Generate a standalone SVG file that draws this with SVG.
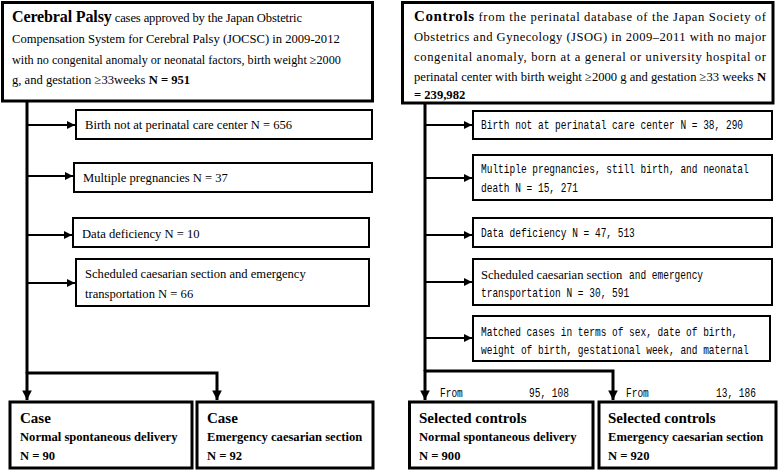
<svg xmlns="http://www.w3.org/2000/svg" width="778" height="470" viewBox="0 0 778 470">
<defs>
<style>
.t{font-family:"Liberation Serif","Times New Roman",serif;font-size:12.6px;fill:#000}
.b{font-weight:bold}
.h{font-family:"Liberation Serif","Times New Roman",serif;font-size:15px;font-weight:bold;fill:#000}
.m{font-family:"Liberation Mono","Courier New",monospace;font-size:12.5px;fill:#000}
.big{fill:#fff;stroke:#000;stroke-width:3}
.sub{fill:#fff;stroke:#000;stroke-width:2}
.ln{fill:none;stroke:#000;stroke-width:3}
.ar{fill:none;stroke:#000;stroke-width:2}
</style>
<marker id="ah" viewBox="0 0 10 10" refX="10" refY="5" markerWidth="4" markerHeight="4" orient="auto" markerUnits="strokeWidth">
<path d="M0,0 L10,5 L0,10 z" fill="#000"/>
</marker>
<marker id="ahb" viewBox="0 0 10 10" refX="10" refY="5" markerWidth="3.2" markerHeight="3.2" orient="auto" markerUnits="strokeWidth">
<path d="M0,0 L10,5 L0,10 z" fill="#000"/>
</marker>
</defs>

<g id="connectors">
<path class="ln" d="M27,101 V373"/>
<path class="ar" d="M27,125 H75" marker-end="url(#ah)"/>
<path class="ar" d="M27,176 H73" marker-end="url(#ah)"/>
<path class="ar" d="M27,235 H72" marker-end="url(#ah)"/>
<path class="ar" d="M27,283 H75" marker-end="url(#ah)"/>
<path class="ln" d="M27,372 V400" marker-end="url(#ahb)"/>
<path class="ln" d="M26,373 H217 V400" marker-end="url(#ahb)"/>

<path class="ln" d="M425,103 V371"/>
<path class="ar" d="M425,125 H472" marker-end="url(#ah)"/>
<path class="ar" d="M425,178 H472" marker-end="url(#ah)"/>
<path class="ar" d="M425,235 H472" marker-end="url(#ah)"/>
<path class="ar" d="M425,282 H472" marker-end="url(#ah)"/>
<path class="ar" d="M425,338 H472" marker-end="url(#ah)"/>
<path class="ln" d="M425,370 V400" marker-end="url(#ahb)"/>
<path class="ln" d="M424,371 H613 V400" marker-end="url(#ahb)"/>
</g>

<g id="cp-top">
<rect class="big" x="2.5" y="2.5" width="370" height="98.5"/>
<text x="12" y="22" class="t" textLength="290" lengthAdjust="spacing"><tspan class="h" style="font-size:16px">Cerebral Palsy</tspan> cases approved by the Japan Obstetric</text>
<text x="12" y="43" class="t">Compensation System for Cerebral Palsy (JOCSC) in 2009-2012</text>
<text x="12" y="64" class="t" style="font-size:12.2px">with no congenital anomaly or neonatal factors, birth weight ≥2000</text>
<text x="12" y="84" class="t">g, and gestation ≥33weeks    <tspan class="b">N = 951</tspan></text>
</g>

<g id="cp-ex1">
<rect class="sub" x="76" y="110" width="296" height="29"/>
<text x="85" y="129" class="t">Birth not at perinatal care center N = 656</text>
</g>
<g id="cp-ex2">
<rect class="sub" x="74" y="163" width="298" height="29"/>
<text x="83" y="182" class="t">Multiple pregnancies N = 37</text>
</g>
<g id="cp-ex3">
<rect class="sub" x="73" y="218" width="296" height="29"/>
<text x="82" y="238" class="t">Data deficiency N = 10</text>
</g>
<g id="cp-ex4">
<rect class="sub" x="76" y="259" width="293" height="47"/>
<text x="85" y="278" class="t">Scheduled caesarian section and emergency</text>
<text x="85" y="298" class="t">transportation N = 66</text>
</g>

<g id="case-nsd">
<rect class="big" x="10" y="402" width="182" height="66"/>
<text x="20" y="423" class="h">Case</text>
<text x="20" y="441" class="t b">Normal spontaneous delivery</text>
<text x="20" y="460" class="t b">N = 90</text>
</g>
<g id="case-ecs">
<rect class="big" x="197" y="402" width="176" height="66"/>
<text x="207" y="423" class="h">Case</text>
<text x="207" y="441" class="t b">Emergency caesarian section</text>
<text x="207" y="460" class="t b">N = 92</text>
</g>

<g id="ctrl-top">
<rect class="big" x="402.5" y="2.5" width="370.5" height="100.5"/>
<text x="414" y="21" class="t" textLength="352" lengthAdjust="spacing"><tspan class="h">Controls</tspan> from the perinatal database of the Japan Society of</text>
<text x="414" y="41" class="t" textLength="352" lengthAdjust="spacing">Obstetrics and Gynecology (JSOG) in 2009–2011 with no major</text>
<text x="414" y="61" class="t" textLength="352" lengthAdjust="spacing">congenital anomaly, born at a general or university hospital or</text>
<text x="414" y="81" class="t" textLength="352" lengthAdjust="spacing">perinatal center with birth weight ≥2000 g and gestation ≥33 weeks <tspan class="b">N</tspan></text>
<text x="414" y="99" class="t b">= 239,982</text>
</g>

<g id="ctrl-ex1">
<rect class="sub" x="473" y="111" width="299" height="28"/>
<text class="m" transform="translate(481 129) scale(0.76 1)">Birth not at perinatal care center N = 38, 290</text>
</g>
<g id="ctrl-ex2">
<rect class="sub" x="473" y="155" width="299" height="45"/>
<text class="m" transform="translate(481 173) scale(0.76 1)">Multiple pregnancies, still birth, and neonatal</text>
<text class="m" transform="translate(481 192) scale(0.76 1)">death N = 15, 271</text>
</g>
<g id="ctrl-ex3">
<rect class="sub" x="473" y="218" width="299" height="29"/>
<text class="m" transform="translate(481 237) scale(0.76 1)">Data deficiency N = 47, 513</text>
</g>
<g id="ctrl-ex4">
<rect class="sub" x="473" y="259" width="299" height="46"/>
<text x="481" y="279" class="t">Scheduled caesarian section</text>
<text class="m" transform="translate(629 279) scale(0.76 1)">and emergency</text>
<text class="m" transform="translate(481 297) scale(0.76 1)">transportation N = 30, 591</text>
</g>
<g id="ctrl-ex5">
<rect class="sub" x="473" y="316" width="297" height="45"/>
<text class="m" transform="translate(481 336) scale(0.76 1)">Matched cases in terms of sex, date of birth,</text>
<text class="m" transform="translate(481 354) scale(0.76 1)">weight of birth, gestational week, and maternal</text>
</g>

<g id="from-labels">
<text class="m" transform="translate(440 397) scale(0.76 1)">From</text>
<text class="m" transform="translate(529 397) scale(0.76 1)">95, 108</text>
<text class="m" transform="translate(626 397) scale(0.76 1)">From</text>
<text class="m" transform="translate(716 397) scale(0.76 1)">13, 186</text>
</g>

<g id="sel-nsd">
<rect class="big" x="409.5" y="402" width="183.5" height="66"/>
<text x="419" y="423" class="h">Selected controls</text>
<text x="419" y="441" class="t b">Normal spontaneous delivery</text>
<text x="419" y="460" class="t b">N = 900</text>
</g>
<g id="sel-ecs">
<rect class="big" x="599" y="402" width="177" height="66"/>
<text x="608" y="423" class="h">Selected controls</text>
<text x="608" y="441" class="t b">Emergency caesarian section</text>
<text x="608" y="460" class="t b">N = 920</text>
</g>
</svg>
